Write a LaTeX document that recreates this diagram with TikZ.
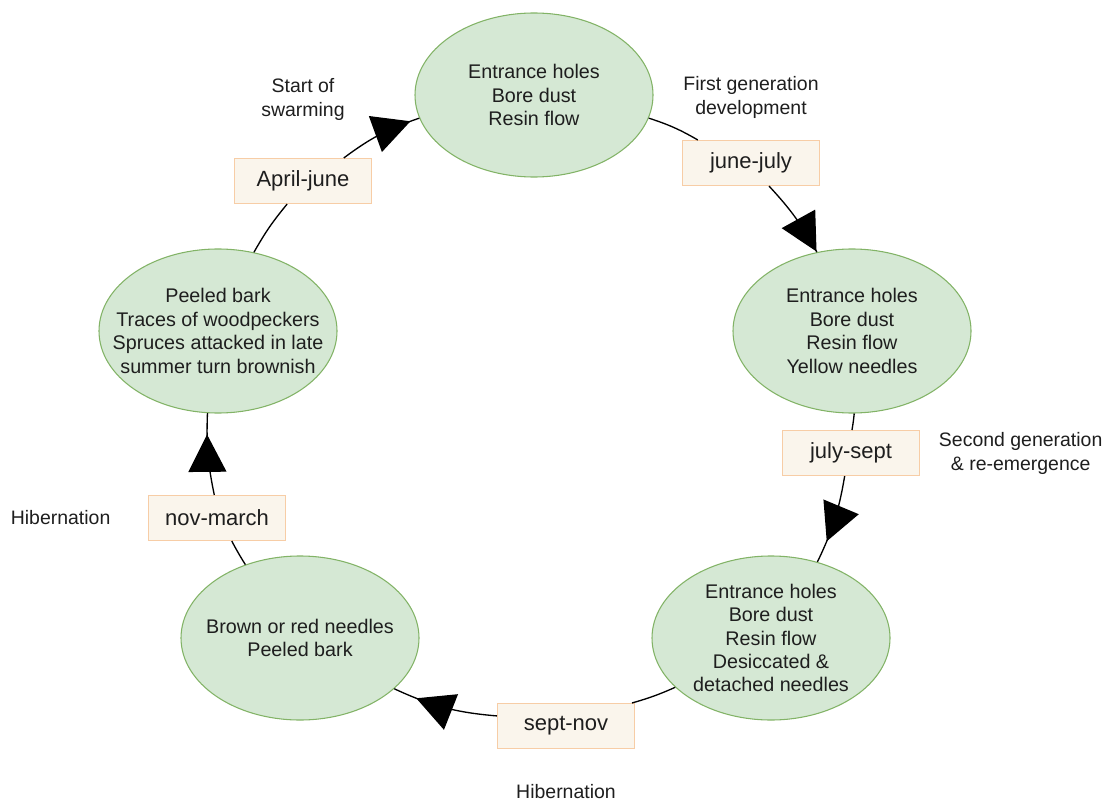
\documentclass[tikz,border=0pt]{standalone}
\usepackage{fontspec}
\setmainfont{Liberation Sans}
\usepackage{tikz}
\usetikzlibrary{positioning,arrows.meta,shapes.geometric,decorations.markings}
\definecolor{StageFill}{HTML}{D5E8D4}
\definecolor{StageLine}{HTML}{82B366}
\definecolor{MonthFill}{HTML}{FAF5EC}
\definecolor{MonthLine}{HTML}{F7CDA6}
\definecolor{InkGray}{HTML}{1E1E1E}

\begin{document}
\begin{tikzpicture}[
x=0.75pt, y=-0.75pt,
stage/.style={ellipse, draw=StageLine, fill=StageFill, line width=0.8pt, minimum width=178.5pt, minimum height=123pt, inner xsep=-25pt, inner ysep=0pt, align=center, text=InkGray, font=\fontsize{14.8}{17.6}\selectfont},
month/.style={rectangle, draw=MonthLine, fill=MonthFill, line width=0.8pt, minimum width=102.75pt, minimum height=33.75pt, inner sep=0pt, text=InkGray, font=\fontsize{16.5}{19}\selectfont},
note/.style={align=center, inner sep=0pt, text=InkGray, font=\fontsize{14.6}{18}\selectfont},
link/.style={draw=black, line width=1pt},
tipat/.style={postaction={decorate}, decoration={markings, mark=at position #1 with {\arrow{Triangle[length=28pt, width=28.5pt]}}}}
]
\useasboundingbox (0,0) rectangle (1109,802);

\node[stage] (top) at (534,95) {Entrance holes\\Bore dust\\Resin flow};
\node[stage] (right) at (852,331) {Entrance holes\\Bore dust\\Resin flow\\Yellow needles};
\node[stage] (botright) at (771,638) {Entrance holes\\Bore dust\\Resin flow\\Desiccated \&\\detached needles};
\node[stage] (botleft) at (300,638) {Brown or red needles\\Peeled bark};
\node[stage] (left) at (218,331) {Peeled bark\\Traces of woodpeckers\\Spruces attacked in late\\summer turn brownish};

\node[month] (aprjun) at (303,181) {April-june};
\node[month] (junjul) at (751,163) {june-july};
\node[month] (julsep) at (851,453) {july-sept};
\node[month] (sepnov) at (566,726) {sept-nov};
\node[month] (novmar) at (217,518) {nov-march};

\node[note, above=28pt of aprjun] (swarm) {Start of\\swarming};
\node[note, above=16pt of junjul] (firstgen) {First generation\\development};
\node[note, right=14pt of julsep] (secondgen) {Second generation\\\& re-emergence};
\node[note, left=28pt of novmar] (hibwest) {Hibernation};
\node[note, below=26pt of sepnov] (hibsouth) {Hibernation};

\draw[link] (left) to[bend left=5] (aprjun);
\draw[link, tipat=-7pt] (aprjun) to[bend left=9] (top);
\draw[link] (top) to[bend left=6] (junjul);
\draw[link, tipat=-0.5pt] (junjul) to[bend left=7] (right);
\draw[link] (right) to[bend left=2] (julsep);
\draw[link, tipat=-17pt] (julsep) to[bend left=8] (botright);
\draw[link] (botright) to[bend left=4] (sepnov);
\draw[link, tipat=-18pt] (sepnov) to[bend left=10] (botleft);
\draw[link] (botleft) to[bend left=2] (novmar);
\draw[link, tipat=-16pt] (novmar) to[bend left=7] (left);
\end{tikzpicture}
\end{document}
